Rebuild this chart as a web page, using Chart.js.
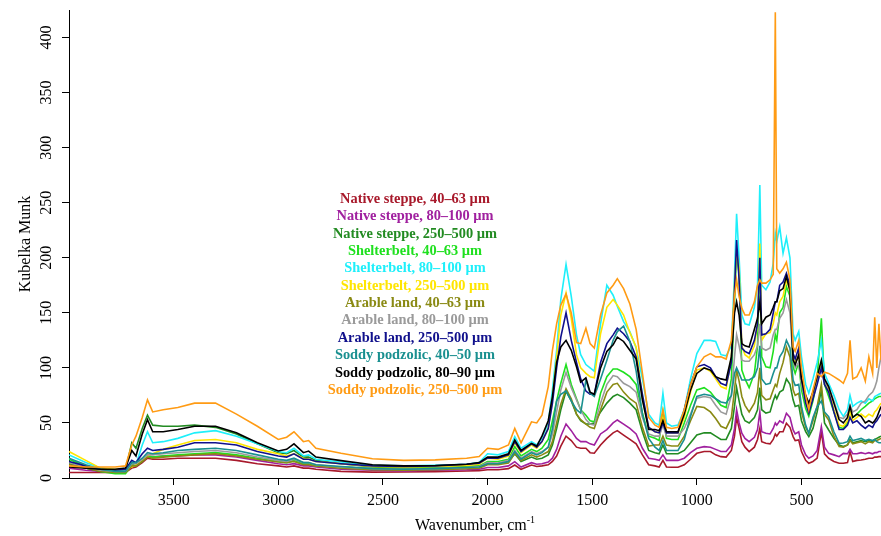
<!DOCTYPE html>
<html>
<head>
<meta charset="utf-8">
<script src="https://cdn.jsdelivr.net/npm/chart.js@4.4.1/dist/chart.umd.min.js"></script>
<style>
  html, body { margin: 0; padding: 0; background: #ffffff; }
  #wrap { width: 881px; height: 536px; }
</style>
</head>
<body>
<div id="wrap"><canvas id="c" width="881" height="536"></canvas></div>
<script>
// Wavenumber grid (cm-1), shared by all spectra
const wavenumbers = [
  4000, 3920, 3850, 3780, 3730, 3700, 3680, 3650, 3625, 3600,
  3550, 3480, 3400, 3300, 3200, 3100, 3000, 2960, 2925, 2880,
  2855, 2820, 2700, 2550, 2400, 2250, 2100, 2040, 2000, 1950,
  1900, 1870, 1840, 1790, 1765, 1740, 1710, 1690, 1670, 1650,
  1625, 1600, 1575, 1555, 1530, 1510, 1490, 1460, 1430, 1400,
  1380, 1350, 1320, 1290, 1260, 1230, 1200, 1180, 1162, 1145,
  1120, 1090, 1060, 1030, 1000, 965, 935, 910, 885, 860,
  835, 820, 810, 798, 785, 770, 750, 725, 710, 699,
  690, 670, 650, 635, 625, 618, 604, 588, 572, 555,
  540, 530, 513, 500, 480, 465, 445, 425, 405, 390,
  370, 345, 320, 300, 280, 268, 255, 235, 215, 195,
  178, 160, 150, 140, 130, 120
];

// Kubelka-Munk spectra, one array per soil sample
const nativeSteppe40 = [
  5, 5, 5, 5, 5, 9, 10, 14, 18, 17,
  17, 18, 18, 18, 16, 13, 11, 10, 11, 9,
  9, 8, 6, 5.3, 5.5, 5.8, 6.3, 6.7, 7.5, 7.5,
  8.5, 11.8, 7.9, 11.8, 10.5, 11, 12, 15, 20, 29,
  38, 34, 28, 27, 27, 23, 22.5, 30, 36, 41,
  43, 39, 35, 31, 21, 12, 11, 10, 16, 10,
  9.7, 9.7, 12, 17, 22.4, 24, 24, 21, 19.4, 19,
  25, 38, 55, 45, 33, 28, 24, 28, 35, 45,
  33, 31.5, 31, 35, 40, 38, 42, 42, 49.7, 46,
  37.6, 34, 34.5, 24, 16, 13.4, 15, 18, 42, 22,
  17.9, 15, 13.4, 13.4, 14, 24, 15, 16, 16.4, 17,
  18, 18, 19, 19, 19.4, 19.4
];
const nativeSteppe80 = [
  9, 7, 6, 5, 5, 12, 12, 17, 20, 19,
  20, 20, 21, 21, 19, 16, 13, 12, 13, 11,
  11, 10, 8, 7, 6.5, 7, 7.5, 8, 9.5, 9.5,
  11, 14.8, 10, 13.9, 12.5, 13, 14.5, 18, 26, 38,
  49, 43, 36, 33, 33, 31, 30, 40, 44, 50,
  52.7, 49, 45, 40, 27, 18, 17, 16, 21, 16,
  16, 16, 18, 23, 27, 28.5, 28, 26, 24, 24,
  30, 45, 62, 50, 40.6, 36, 33, 37, 44, 60,
  42, 40.6, 40, 45, 50, 48, 52, 50, 58.8, 55,
  43.6, 40, 42, 30, 21, 17.9, 20, 25, 46.6, 28,
  22.4, 21, 19.4, 22.4, 22, 26, 22, 22, 23, 22,
  23, 22, 23, 23, 24, 24
];
const nativeSteppe250 = [
  13, 9, 6, 5, 7, 32, 27, 45, 57, 48,
  47, 47, 48, 46, 40, 31, 23, 22, 25, 19,
  19, 16, 13, 10, 9, 9.5, 10.5, 11, 13, 13,
  15, 22, 15, 19, 17, 18, 21, 30, 45, 62,
  79, 70, 58, 52, 49, 49, 50, 60, 68, 74,
  76, 73, 68, 62, 42, 25, 23, 22, 30, 22,
  22, 22, 25, 32, 39, 41, 41, 38, 35, 35,
  45, 65, 82, 70, 58, 52, 50, 55, 62, 82,
  62, 59, 60, 70, 75, 72, 78, 80, 90, 85,
  71, 65, 66, 52, 42, 37.6, 45, 60, 80, 50,
  43.6, 36, 30, 28.5, 30, 35, 32, 33, 34, 33,
  34, 33, 35, 36, 37, 38
];
const shelterbelt40 = [
  17, 11, 6, 4, 4, 12, 11, 15, 20, 19,
  20, 21, 22, 23, 21, 18, 15, 14, 16, 13,
  13, 11, 10, 8.5, 8.5, 9, 10, 11, 15, 15,
  17, 28.5, 20, 26, 24, 27, 35, 52, 70, 86,
  103, 85, 72, 62, 57, 52, 51, 77, 92, 99,
  99, 96, 92, 85, 59, 38, 36, 34, 60, 36,
  35, 35, 50, 66, 80, 82, 78, 72, 66, 64,
  90, 160, 205, 185, 98, 90, 82, 95, 120, 204,
  110, 101, 100, 115, 130, 125, 150, 155, 174, 165,
  101, 95, 105, 80, 63, 56, 70, 90, 145, 85,
  74, 60, 46, 45, 50, 60, 55, 58, 62, 65,
  68, 70, 72, 73, 74, 74
];
const shelterbelt80 = [
  21, 14, 9, 7, 7, 15, 12, 30, 42, 32,
  33, 36, 41, 43, 38, 31, 24, 23, 27, 20,
  21, 17, 14.5, 11.5, 11, 11.5, 12.5, 14, 22, 21,
  24, 37.5, 27, 33, 30, 36, 50, 80, 116, 162,
  194, 165, 130, 112, 103, 100, 97, 140, 175, 166,
  156, 142, 133, 118, 90, 58, 50, 48, 77, 50,
  47, 48, 62, 90, 113, 125, 125, 124, 112, 111,
  120, 185, 240, 200, 148, 140, 139, 155, 175, 266,
  175, 171, 178, 195, 222, 215, 228, 204, 218, 200,
  131, 125, 133, 110, 85, 77, 90, 105, 125, 95,
  86, 75, 62, 56, 62, 75, 65, 68, 70, 68,
  72, 70, 74, 75, 76, 77
];
const shelterbelt250 = [
  24, 16, 9, 8, 8, 10, 12, 17, 20, 22,
  26, 30, 34, 35, 32, 26, 22, 20, 22, 18,
  17, 15, 13, 10.5, 10, 10.5, 11.5, 12.5, 18, 17,
  20, 32, 23, 30, 27, 33, 45, 72, 110, 148,
  168, 145, 112, 100, 95, 92, 91, 131, 155, 162,
  157, 148, 132, 119, 72, 46, 42, 41, 55, 42,
  41, 41, 55, 78, 98, 100, 97, 90, 83, 81,
  110, 175, 207, 190, 120, 112, 109, 120, 140, 213,
  125, 131, 132, 140, 150, 148, 160, 165, 180, 170,
  110, 104, 112, 90, 70, 62, 75, 88, 105, 88,
  80, 62, 48, 47, 52, 60, 52, 55, 58, 55,
  58, 56, 60, 62, 65, 68
];
const arable40 = [
  12, 9, 6, 5, 5, 11, 11, 15, 19, 18,
  19, 20, 21, 22, 20, 17, 14.5, 14, 15, 12,
  12, 11, 9, 7.5, 7, 7.5, 8.5, 9, 12, 12,
  13.5, 22.4, 16, 21, 19, 21, 24, 33, 50, 67,
  81, 72, 58, 53, 49, 46, 45, 62, 78, 85,
  86, 78, 72, 68, 46, 29, 30, 30, 38, 30,
  29, 29, 38, 52, 65, 64, 60, 54, 47, 45,
  55, 80, 98, 88, 74, 66, 60, 68, 78, 100,
  75, 71, 72, 80, 85, 83, 95, 105, 119, 110,
  80, 75, 77, 60, 46, 40.6, 52, 65, 85, 58,
  52.7, 38, 28.5, 28, 30, 34, 31, 32, 33, 31,
  33, 32, 34, 34, 35, 36
];
const arable80 = [
  14, 10, 7, 6, 6, 13, 13, 17, 21, 21,
  22, 23, 24, 25, 23, 19, 16, 15, 17, 14,
  14, 12, 10, 8.5, 8, 8.5, 9.5, 10.5, 14, 13.5,
  16, 25, 18, 24, 22, 24, 28, 40, 60, 80,
  96, 82, 71, 62, 53, 49, 48, 68, 85, 93,
  92, 86, 83, 78, 55, 40, 38, 38, 48, 38,
  38, 38, 45, 58, 72.5, 74, 73, 66, 60, 58,
  75, 110, 130, 120, 107, 106, 106, 112, 120, 140,
  118, 116, 118, 130, 135, 135, 145, 150, 162, 150,
  107, 100, 105, 85, 70, 65, 75, 88, 100, 88,
  82, 70, 55, 54, 58, 66, 60, 62, 68, 70,
  75, 78, 82, 88, 100, 110
];
const arable250 = [
  15, 11, 8, 7, 8, 16, 14, 22, 27, 25,
  26, 28, 32, 32, 30, 24, 20, 19, 22, 17,
  17, 15, 13, 11, 10.5, 11, 12.5, 13.5, 18, 18,
  21, 33, 24, 31, 28, 33, 45, 68, 100, 128,
  150, 125, 105, 90, 79, 76, 76, 105, 122, 130,
  136, 131, 124, 110, 76, 46, 42, 41, 50, 41,
  41, 41, 62, 85, 101, 103, 100, 92, 86, 84,
  105, 170, 216, 180, 118, 115, 113, 125, 140, 200,
  130, 131, 135, 150, 160, 160, 175, 178, 186, 175,
  113, 108, 118, 90, 68, 59, 72, 85, 100, 85,
  78, 60, 44, 44, 48, 55, 50, 52, 48, 45,
  48, 46, 50, 52, 55, 58
];
const soddyPodzolic40 = [
  18, 12, 8, 6, 6, 14, 14, 18, 23, 22,
  23, 25, 26, 27, 25, 21, 17, 16, 18, 14,
  14, 12, 10.5, 8.5, 8, 8.5, 9.5, 10, 13, 13,
  15, 24, 17, 23, 21, 23, 28, 45, 70, 76,
  79, 70, 62, 59, 89, 77, 74, 90, 107, 125,
  133, 138, 124, 97, 58, 36, 28, 25, 34, 25,
  25, 25, 35, 56, 74, 76, 75, 72, 69, 68,
  75, 95, 100, 95, 89, 89, 89, 92, 100, 120,
  90, 85, 86, 95, 100, 100, 110, 115, 125, 118,
  89, 84, 85, 65, 48, 40.6, 55, 65, 70, 60,
  55.7, 42, 31.5, 31.8, 33, 38, 34, 35, 36, 34,
  35, 34, 35, 33, 32, 32
];
const soddyPodzolic80 = [
  10, 9, 8, 8, 9, 25, 20, 40, 53, 42,
  42, 44, 47, 47, 41, 32, 24.5, 26, 31, 23,
  24.5, 19, 15.8, 12, 11, 11.3, 12.5, 14, 19, 19,
  22, 34.5, 25, 31.5, 29, 38, 52, 74, 105, 119,
  125, 116, 101, 87, 91, 78, 76, 100, 115, 121,
  128, 124, 116, 108, 71, 44, 44, 43, 52, 42,
  42, 42, 58, 80, 95, 100, 98, 92, 90, 89,
  110, 150, 160, 148, 122, 120, 119, 135, 145, 160,
  140, 146, 148, 155, 160, 160, 170, 172, 183, 170,
  107, 103, 112, 90, 75, 68, 78, 92, 107, 90,
  83, 68, 53, 50, 55, 65, 55, 58, 56, 50,
  52, 50, 52, 55, 60, 65
];
const soddyPodzolic250 = [
  11, 10, 10, 10, 11, 30, 38, 55, 71, 60,
  62, 64, 68, 68, 58, 47, 35, 37, 42, 33,
  34, 27, 22.4, 17.5, 16, 16.5, 18, 19.5, 27, 26,
  30, 45, 32, 51, 50, 57, 83, 116, 140, 157,
  167, 150, 123, 122, 136, 122, 118, 148, 168, 175,
  181, 172, 158, 135, 95, 55, 48, 46, 62, 46,
  45, 46, 62, 85, 101, 110, 113, 110, 110, 108,
  125, 165, 180, 165, 154, 148, 148, 160, 175, 180,
  177, 177, 180, 185, 423, 190, 186, 190, 196, 180,
  119, 115, 125, 100, 75, 62, 80, 95, 92, 96,
  95, 92, 89, 86, 95, 125, 90, 92, 100, 88,
  110, 95, 146, 100, 140, 107
];

const seriesLabels = [
  'Native steppe, 40–63 µm',
  'Native steppe, 80–100 µm',
  'Native steppe, 250–500 µm',
  'Shelterbelt, 40–63 µm',
  'Shelterbelt, 80–100 µm',
  'Shelterbelt, 250–500 µm',
  'Arable land, 40–63 µm',
  'Arable land, 80–100 µm',
  'Arable land, 250–500 µm',
  'Soddy podzolic, 40–50 µm',
  'Soddy podzolic, 80–90 µm',
  'Soddy podzolic, 250–500 µm'
];
const seriesColors = [
  '#A8192B', '#A0209F', '#228B22', '#1FE01F',
  '#1EEFFA', '#FFE500', '#8A8A14', '#9A9A9A',
  '#10108C', '#1A9090', '#000000', '#FF9B14'
];
const seriesValues = [
  nativeSteppe40, nativeSteppe80, nativeSteppe250,
  shelterbelt40, shelterbelt80, shelterbelt250,
  arable40, arable80, arable250,
  soddyPodzolic40, soddyPodzolic80, soddyPodzolic250
];

const xTickValues = [3500, 3000, 2500, 2000, 1500, 1000, 500];
const yTickValues = [0, 50, 100, 150, 200, 250, 300, 350, 400];

const SERIF = '"Liberation Serif", "Times New Roman", Times, serif';
Chart.defaults.font.family = SERIF;
Chart.defaults.color = '#000000';

const datasets = seriesValues.map((vals, i) => ({
  label: seriesLabels[i],
  data: vals.map((v, j) => ({ x: wavenumbers[j], y: v })),
  borderColor: seriesColors[i],
  backgroundColor: seriesColors[i],
  borderWidth: 1.6,
  pointRadius: 0,
  tension: 0,
  fill: false,
  // later samples are painted over earlier ones
  order: seriesValues.length - 1 - i
}));

// Rotated y tick labels, axis titles and the centred coloured key
const spectrumText = {
  id: 'spectrumText',
  afterDraw(chart) {
    const ctx = chart.ctx;
    const yScale = chart.scales.y;
    const area = chart.chartArea;
    ctx.save();
    ctx.fillStyle = '#000000';
    ctx.font = '16px ' + SERIF;

    yTickValues.forEach(v => {
      const py = yScale.getPixelForValue(v);
      ctx.save();
      ctx.translate(51, py);
      ctx.rotate(-Math.PI / 2);
      ctx.textAlign = 'center';
      ctx.textBaseline = 'alphabetic';
      ctx.fillText(String(v), 0, 0);
      ctx.restore();
    });

    ctx.save();
    ctx.translate(30, (area.top + area.bottom) / 2);
    ctx.rotate(-Math.PI / 2);
    ctx.textAlign = 'center';
    ctx.textBaseline = 'alphabetic';
    ctx.fillText('Kubelka Munk', 0, 0);
    ctx.restore();

    const mainText = 'Wavenumber, cm';
    const supText = '-1';
    ctx.font = '16px ' + SERIF;
    const w1 = ctx.measureText(mainText).width;
    ctx.font = '10px ' + SERIF;
    const w2 = ctx.measureText(supText).width;
    const cx = (area.left + area.right) / 2;
    const startX = cx - (w1 + w2) / 2;
    const base = 530;
    ctx.textAlign = 'left';
    ctx.textBaseline = 'alphabetic';
    ctx.font = '16px ' + SERIF;
    ctx.fillText(mainText, startX, base);
    ctx.font = '10px ' + SERIF;
    ctx.fillText(supText, startX + w1, base - 7);

    ctx.font = 'bold 14.4px ' + SERIF;
    ctx.textAlign = 'center';
    ctx.textBaseline = 'middle';
    chart.data.datasets.forEach((ds, i) => {
      ctx.fillStyle = ds.borderColor;
      ctx.fillText(ds.label, 415, 199.3 + i * 17.35);
    });
    ctx.restore();
  }
};

new Chart(document.getElementById('c'), {
  type: 'line',
  data: { datasets },
  options: {
    responsive: false,
    animation: false,
    layout: { padding: { top: 10, right: 0, bottom: 0, left: 0 } },
    plugins: {
      legend: { display: false },
      tooltip: { enabled: false }
    },
    scales: {
      x: {
        type: 'linear',
        reverse: true,
        min: 120,
        max: 4000,
        afterBuildTicks: s => { s.ticks = xTickValues.map(v => ({ value: v })); },
        afterFit: s => { s.height = 58; },
        ticks: {
          font: { family: SERIF, size: 16 },
          color: '#000000',
          padding: 6,
          maxRotation: 0,
          autoSkip: false,
          callback: v => String(v)
        },
        grid: {
          drawOnChartArea: false,
          drawTicks: true,
          tickLength: 7,
          tickColor: '#000000',
          color: '#000000'
        },
        border: { display: true, color: '#000000', width: 1 }
      },
      y: {
        type: 'linear',
        min: 0,
        max: 425,
        afterBuildTicks: s => { s.ticks = yTickValues.map(v => ({ value: v })); },
        afterFit: s => { s.width = 69; },
        ticks: { display: false },
        grid: {
          drawOnChartArea: false,
          drawTicks: true,
          tickLength: 7,
          tickColor: '#000000',
          color: '#000000'
        },
        border: { display: true, color: '#000000', width: 1 }
      }
    }
  },
  plugins: [spectrumText]
});
</script>
</body>
</html>
